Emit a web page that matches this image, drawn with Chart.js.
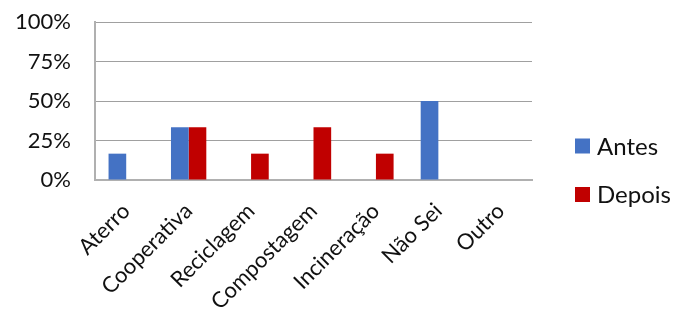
<!DOCTYPE html>
<html>
<head>
<meta charset="utf-8">
<script src="https://cdn.jsdelivr.net/npm/chart.js@4"></script>
<style>
  html, body { margin: 0; padding: 0; background: #fff; }
  #wrap { width: 673px; height: 323px; }
</style>
</head>
<body>
<div id="wrap"><canvas id="destinoChart"></canvas></div>
<script>
var categorias = ['Aterro', 'Cooperativa', 'Reciclagem', 'Compostagem', 'Incineração', 'Não Sei', 'Outro'];
var antes = [16.67, 33.33, 0, 0, 0, 50, 0];
var depois = [0, 33.33, 16.67, 33.33, 16.67, 0, 0];
var yTicks = [0, 25, 50, 75, 100];

var fonte = { family: 'Lato', size: 22 };

// legenda desenhada à direita do gráfico, uma entrada por série
var legendaLateral = {
    id: 'legendaLateral',
    afterDraw: function(chart) {
        var c = chart.ctx;
        var area = chart.chartArea;
        var x = area.right + 43;
        var y = 146;
        c.save();
        c.font = '24px Lato';
        c.textBaseline = 'middle';
        chart.data.datasets.forEach(function(ds) {
            c.fillStyle = ds.backgroundColor;
            c.fillRect(x, y - 7.5, 15, 15);
            c.fillStyle = '#111';
            c.fillText(ds.label, x + 22, y + 1);
            y += 48.5;
        });
        c.restore();
    }
};

var ctx = document.getElementById('destinoChart').getContext('2d');
var destinoChart = new Chart(ctx, {
    type: 'bar',
    data: {
        labels: categorias,
        datasets: [{
                label: 'Antes',
                data: antes,
                backgroundColor: '#4472c4',
                borderWidth: 0,
                categoryPercentage: 0.566,
                barPercentage: 1
            },
            {
                label: 'Depois',
                data: depois,
                backgroundColor: '#c00000',
                borderWidth: 0,
                categoryPercentage: 0.566,
                barPercentage: 1
            }
        ]
    },
    plugins: [legendaLateral],
    options: {
        responsive: true,
        maintainAspectRatio: false,
        animation: false,
        layout: { padding: { top: 0, right: 141, left: 0, bottom: 0 } },
        plugins: {
            tooltip: { enabled: false },
            legend: { display: false }
        },
        scales: {
            x: {
                grid: { display: false, drawTicks: false },
                border: { display: true, color: '#b0b0b0', width: 2 },
                ticks: {
                    font: fonte,
                    color: '#111',
                    minRotation: 45,
                    maxRotation: 45,
                    padding: 18
                },
                afterFit: function(scale) { scale.height = 143; }
            },
            y: {
                min: 0,
                max: 100,
                afterBuildTicks: function(scale) {
                    scale.ticks = yTicks.map(function(v) { return { value: v }; });
                },
                grid: { color: '#a0a0a0', lineWidth: 1, drawTicks: true, tickLength: 15.2, tickColor: 'rgba(0,0,0,0)' },
                border: { display: true, color: '#b0b0b0', width: 2 },
                ticks: {
                    font: fonte,
                    color: '#111',
                    padding: 8.8,
                    callback: function(v) { return v + '%'; }
                },
                afterFit: function(scale) { scale.width = 95; }
            }
        }
    }
});
</script>
</body>
</html>
